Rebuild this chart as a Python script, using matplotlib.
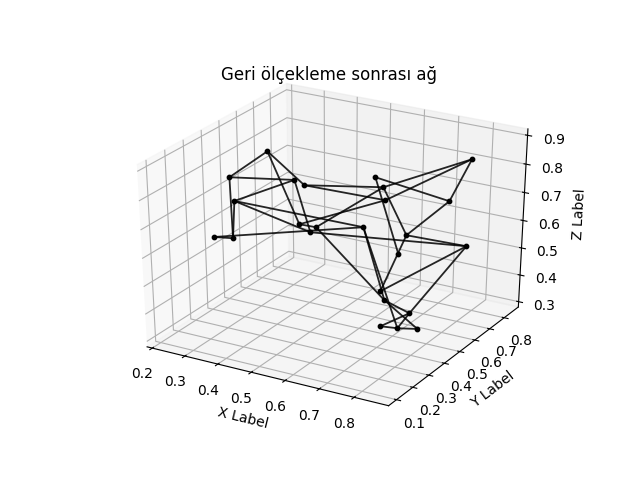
import matplotlib
matplotlib.use("Agg")
import matplotlib.pyplot as plt

# node positions after rescaling
x = [0.3171, 0.2552, 0.4015, 0.4282, 0.2866, 0.2725, 0.3157, 0.4506, 0.4902, 0.4819, 0.7775, 0.5787, 0.605,
     0.6206, 0.7633, 0.595, 0.6972, 0.8396, 0.6958, 0.6877, 0.7042, 0.7708, 0.7177, 0.7571, 0.802]
y = [0.5209, 0.4173, 0.5113, 0.5171, 0.383, 0.2886, 0.3152, 0.4406, 0.4607, 0.4432, 0.8178, 0.6391, 0.6336,
     0.6137, 0.7092, 0.5326, 0.5838, 0.6555, 0.5381, 0.4454, 0.4356, 0.4506, 0.3836, 0.4059, 0.435]
z = [0.8382, 0.7687, 0.7615, 0.7473, 0.7053, 0.609, 0.6056, 0.643, 0.635, 0.6216, 0.8168, 0.7687, 0.7419,
     0.7072, 0.7045, 0.635, 0.6136, 0.5842, 0.5628, 0.4639, 0.4398, 0.405, 0.3703, 0.3649, 0.363]

edges = [(0, 1), (0, 3), (0, 7), (1, 2), (1, 6), (2, 4), (2, 9), (4, 9), (4, 15), (5, 6), (5, 15), (6, 4), (7, 8),
         (8, 20), (3, 12), (3, 13), (10, 12), (10, 13), (13, 7), (12, 8), (11, 18), (11, 14), (14, 10), (14, 16),
         (12, 16), (16, 17), (9, 17), (16, 19), (15, 20), (15, 23), (17, 19), (17, 21), (21, 23), (21, 22),
         (20, 21), (20, 24), (22, 23), (23, 24)]

fig = plt.figure()
ax = fig.add_subplot(projection='3d')
# stretched box, the axes fill the whole subplot area
ax.set_box_aspect((1, 1, 1), zoom=0.945)
ax.apply_aspect = lambda position=None: None
ax.set_position([0.125 + 1/640, 0.11 - 1.5/480, 0.775, 0.77])

for a, b in edges:
    ax.plot([x[a], x[b]], [y[a], y[b]], [z[a], z[b]], color='k', alpha=0.85, lw=1.3)
ax.scatter(x, y, z, c='k', s=10, depthshade=False)

ax.set_xlim(0.184, 0.898)
ax.set_ylim(0.052, 0.899)
ax.set_zlim(0.28, 0.922)
ax.set_xlabel('X Label')
ax.set_ylabel('Y Label')
ax.set_zlabel('Z Label')
ax.set_title('Geri ölçekleme sonrası ağ', y=1.0)

fig.savefig('out.png')
